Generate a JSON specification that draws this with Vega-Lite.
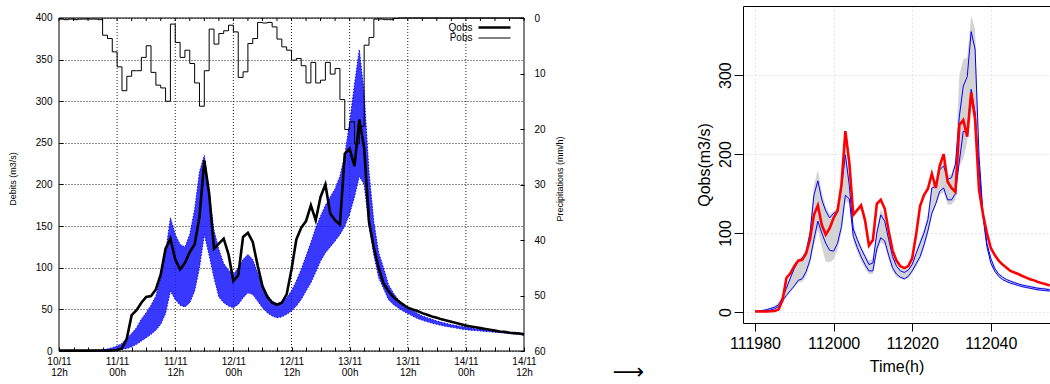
{
"$schema": "https://vega.github.io/schema/vega-lite/v6.json",
"padding": {"left": 8, "top": 6, "right": 0, "bottom": 0},
"background": "white",
"config": {
  "font": "Liberation Sans",
  "view": {"stroke": null},
  "axis": {"labelColor": "black", "titleColor": "black", "tickColor": "black", "domainColor": "black", "titleFontWeight": "normal", "labelOverlap": false, "labelFlush": false, "labelFont": "Liberation Sans", "titleFont": "Liberation Sans"},
  "legend": {"labelFont": "Liberation Sans"}
},
"datasets": {
"L": [
{"h":0,"q":0.5,"p":0.2,"lo":0,"hi":0.5},{"h":1,"q":0.5,"p":0.3,"lo":0,"hi":0.5},{"h":2,"q":0.5,"p":0.2,"lo":0,"hi":0.5},{"h":3,"q":0.5,"p":0.3,"lo":0,"hi":0.5},{"h":4,"q":0.5,"p":0.2,"lo":0,"hi":0.6},{"h":5,"q":0.5,"p":0.2,"lo":0,"hi":0.7},{"h":6,"q":0.5,"p":0.2,"lo":0,"hi":0.8},{"h":7,"q":0.5,"p":0.2,"lo":0,"hi":1},{"h":8,"q":0.5,"p":0.3,"lo":0.2,"hi":1.2},{"h":9,"q":0.5,"p":3.1,"lo":0.3,"hi":1.5},
{"h":10,"q":0.5,"p":3.7,"lo":0.5,"hi":2.5},{"h":11,"q":0.8,"p":6.1,"lo":1,"hi":4},{"h":12,"q":1.2,"p":8.8,"lo":1.5,"hi":6},{"h":13,"q":3,"p":13.1,"lo":2,"hi":9},{"h":14,"q":15,"p":10.5,"lo":3,"hi":15},{"h":15,"q":43,"p":9.5,"lo":5,"hi":21},{"h":16,"q":49,"p":9.5,"lo":8,"hi":28},{"h":17,"q":58,"p":7.1,"lo":12,"hi":38},{"h":18,"q":65,"p":5.0,"lo":16,"hi":46},{"h":19,"q":66,"p":9.8,"lo":20,"hi":55},
{"h":20,"q":74,"p":12.1,"lo":25,"hi":66},{"h":21,"q":92,"p":12.6,"lo":32,"hi":88},{"h":22,"q":123,"p":15.0,"lo":45,"hi":118},{"h":23,"q":135,"p":1.1,"lo":72,"hi":160},{"h":24,"q":110,"p":4.4,"lo":62,"hi":140},{"h":25,"q":98,"p":7.1,"lo":55,"hi":128},{"h":26,"q":106,"p":5.8,"lo":53,"hi":125},{"h":27,"q":119,"p":8.2,"lo":58,"hi":140},{"h":28,"q":128,"p":11.7,"lo":72,"hi":170},{"h":29,"q":161,"p":15.9,"lo":100,"hi":215},
{"h":30,"q":229,"p":9.5,"lo":140,"hi":235},{"h":31,"q":189,"p":2.0,"lo":115,"hi":190},{"h":32,"q":123,"p":4.7,"lo":88,"hi":145},{"h":33,"q":129,"p":2.8,"lo":65,"hi":122},{"h":34,"q":135,"p":2.3,"lo":58,"hi":105},{"h":35,"q":116,"p":1.3,"lo":54,"hi":97},{"h":36,"q":84,"p":2.5,"lo":52,"hi":92},{"h":37,"q":91,"p":10.7,"lo":56,"hi":100},{"h":38,"q":137,"p":9.7,"lo":64,"hi":110},{"h":39,"q":142,"p":4.6,"lo":70,"hi":116},
{"h":40,"q":131,"p":3.7,"lo":68,"hi":110},{"h":41,"q":103,"p":0.8,"lo":60,"hi":94},{"h":42,"q":78,"p":0.9,"lo":52,"hi":78},{"h":43,"q":65,"p":0.8,"lo":46,"hi":68},{"h":44,"q":58,"p":1.6,"lo":42,"hi":60},{"h":45,"q":55.5,"p":3.8,"lo":40,"hi":57},{"h":46,"q":58,"p":5.2,"lo":41,"hi":58},{"h":47,"q":68,"p":5.8,"lo":44,"hi":64},{"h":48,"q":98,"p":7.6,"lo":48,"hi":72},{"h":49,"q":134,"p":7.3,"lo":54,"hi":84},
{"h":50,"q":148,"p":8.6,"lo":62,"hi":98},{"h":51,"q":156,"p":11.7,"lo":72,"hi":114},{"h":52,"q":175,"p":8.0,"lo":82,"hi":130},{"h":53,"q":157,"p":11.7,"lo":95,"hi":148},{"h":54,"q":185,"p":11.2,"lo":108,"hi":162},{"h":55,"q":200,"p":8.0,"lo":118,"hi":175},{"h":56,"q":165,"p":10.1,"lo":125,"hi":185},{"h":57,"q":157,"p":9.1,"lo":132,"hi":195},{"h":58,"q":152,"p":14.7,"lo":140,"hi":210},{"h":59,"q":237,"p":20.1,"lo":150,"hi":235},
{"h":60,"q":243,"p":18.7,"lo":165,"hi":275},{"h":61,"q":222,"p":22.7,"lo":185,"hi":320},{"h":62,"q":278,"p":19.5,"lo":210,"hi":362},{"h":63,"q":244,"p":4.9,"lo":200,"hi":310},{"h":64,"q":155,"p":3.5,"lo":150,"hi":215},{"h":65,"q":124,"p":0.2,"lo":115,"hi":155},{"h":66,"q":100,"p":0.2,"lo":88,"hi":118},{"h":67,"q":81,"p":0.3,"lo":75,"hi":100},{"h":68,"q":72,"p":0.3,"lo":62,"hi":80},{"h":69,"q":65,"p":0.1,"lo":56,"hi":70},
{"h":70,"q":60,"p":0,"lo":52,"hi":62},{"h":71,"q":56,"p":0,"lo":48,"hi":57},{"h":72,"q":52,"p":0,"lo":45,"hi":52},{"h":73,"q":50,"p":0,"lo":42,"hi":49},{"h":74,"q":48,"p":0,"lo":39,"hi":45},{"h":75,"q":45.5,"p":0,"lo":37,"hi":42},{"h":76,"q":43.5,"p":0,"lo":35,"hi":40},{"h":77,"q":41.5,"p":0,"lo":33.5,"hi":38},{"h":78,"q":40,"p":0,"lo":32,"hi":36},{"h":79,"q":38,"p":0,"lo":30.5,"hi":34.5},
{"h":80,"q":36.5,"p":0,"lo":29.5,"hi":33},{"h":81,"q":35,"p":0,"lo":28.5,"hi":31.5},{"h":82,"q":33.5,"p":0,"lo":27.5,"hi":30.5},{"h":83,"q":32,"p":0,"lo":26.5,"hi":29.5},{"h":84,"q":30.5,"p":0,"lo":25.5,"hi":28.5},{"h":85,"q":29.5,"p":0,"lo":25,"hi":27.5},{"h":86,"q":28.5,"p":0,"lo":24.5,"hi":26.5},{"h":87,"q":27.5,"p":0,"lo":24,"hi":26},{"h":88,"q":26.5,"p":0,"lo":23.5,"hi":25},{"h":89,"q":25.5,"p":0,"lo":23,"hi":24.5},
{"h":90,"q":24.5,"p":0,"lo":22.5,"hi":24},{"h":91,"q":23.5,"p":0,"lo":22,"hi":23.5},{"h":92,"q":23,"p":0,"lo":21.5,"hi":23},{"h":93,"q":22,"p":0,"lo":21,"hi":22.5},{"h":94,"q":21.5,"p":0,"lo":20.5,"hi":22},{"h":95,"q":21,"p":0,"lo":20,"hi":21.5},{"h":96,"q":20,"p":0,"lo":19.5,"hi":21}
],
"R": [
{"t":111980,"q":0.5,"bh":1,"bl":0.5,"gh":1.5,"gl":0},{"t":111981,"q":0.5,"bh":1.5,"bl":0.5,"gh":2,"gl":0},{"t":111982,"q":0.5,"bh":2,"bl":1,"gh":2.5,"gl":0.5},{"t":111983,"q":0.5,"bh":3,"bl":1.5,"gh":4,"gl":1},{"t":111984,"q":0.8,"bh":4.5,"bl":2.5,"gh":6,"gl":2},{"t":111985,"q":1.2,"bh":6,"bl":4,"gh":8,"gl":3},{"t":111986,"q":3,"bh":9,"bl":7,"gh":13,"gl":5},{"t":111987,"q":15,"bh":18,"bl":14,"gh":22,"gl":12},{"t":111988,"q":43,"bh":30,"bl":21,"gh":34,"gl":19},{"t":111989,"q":49,"bh":43,"bl":27,"gh":46,"gl":25},
{"t":111990,"q":58,"bh":55,"bl":33,"gh":58,"gl":31},{"t":111991,"q":65,"bh":64,"bl":40,"gh":67,"gl":37},{"t":111992,"q":66,"bh":68,"bl":42,"gh":71,"gl":38},{"t":111993,"q":74,"bh":76,"bl":51,"gh":80,"gl":46},{"t":111994,"q":92,"bh":100,"bl":66,"gh":106,"gl":60},{"t":111995,"q":123,"bh":148,"bl":92,"gh":160,"gl":84},{"t":111996,"q":135,"bh":166,"bl":115,"gh":180,"gl":104},{"t":111997,"q":110,"bh":142,"bl":100,"gh":152,"gl":82},{"t":111998,"q":98,"bh":128,"bl":87,"gh":134,"gl":64},{"t":111999,"q":106,"bh":119,"bl":78,"gh":124,"gl":63},
{"t":112000,"q":119,"bh":125,"bl":77,"gh":128,"gl":66},{"t":112001,"q":128,"bh":128,"bl":87,"gh":132,"gl":78},{"t":112002,"q":161,"bh":157,"bl":108,"gh":162,"gl":100},{"t":112003,"q":229,"bh":199,"bl":148,"gh":206,"gl":140},{"t":112004,"q":189,"bh":160,"bl":143,"gh":166,"gl":138},{"t":112005,"q":123,"bh":105,"bl":96,"gh":112,"gl":90},{"t":112006,"q":129,"bh":92,"bl":82,"gh":96,"gl":76},{"t":112007,"q":135,"bh":80,"bl":70,"gh":84,"gl":64},{"t":112008,"q":116,"bh":70,"bl":60,"gh":74,"gl":55},{"t":112009,"q":84,"bh":60,"bl":52,"gh":65,"gl":48},
{"t":112010,"q":91,"bh":62,"bl":52,"gh":68,"gl":48},{"t":112011,"q":137,"bh":100,"bl":80,"gh":106,"gl":74},{"t":112012,"q":142,"bh":123,"bl":94,"gh":130,"gl":88},{"t":112013,"q":131,"bh":115,"bl":90,"gh":121,"gl":85},{"t":112014,"q":103,"bh":92,"bl":72,"gh":96,"gl":66},{"t":112015,"q":78,"bh":70,"bl":56,"gh":73,"gl":52},{"t":112016,"q":65,"bh":58,"bl":48,"gh":61,"gl":44},{"t":112017,"q":58,"bh":52,"bl":44,"gh":55,"gl":42},{"t":112018,"q":55.5,"bh":50,"bl":42,"gh":53,"gl":40},{"t":112019,"q":58,"bh":53,"bl":45,"gh":56,"gl":43},
{"t":112020,"q":68,"bh":60,"bl":52,"gh":63,"gl":49},{"t":112021,"q":98,"bh":74,"bl":61,"gh":78,"gl":57},{"t":112022,"q":134,"bh":87,"bl":70,"gh":92,"gl":66},{"t":112023,"q":148,"bh":100,"bl":85,"gh":106,"gl":80},{"t":112024,"q":156,"bh":117,"bl":103,"gh":124,"gl":98},{"t":112025,"q":175,"bh":157,"bl":125,"gh":162,"gl":122},{"t":112026,"q":157,"bh":159,"bl":137,"gh":164,"gl":135},{"t":112027,"q":185,"bh":180,"bl":153,"gh":185,"gl":148},{"t":112028,"q":200,"bh":185,"bl":157,"gh":190,"gl":152},{"t":112029,"q":165,"bh":168,"bl":142,"gh":173,"gl":136},
{"t":112030,"q":157,"bh":170,"bl":142,"gh":175,"gl":136},{"t":112031,"q":152,"bh":187,"bl":150,"gh":192,"gl":142},{"t":112032,"q":237,"bh":248,"bl":191,"gh":300,"gl":185},{"t":112033,"q":243,"bh":286,"bl":229,"gh":320,"gl":194},{"t":112034,"q":222,"bh":298,"bl":227,"gh":322,"gl":215},{"t":112035,"q":278,"bh":355,"bl":282,"gh":375,"gl":270},{"t":112036,"q":244,"bh":333,"bl":252,"gh":358,"gl":245},{"t":112037,"q":155,"bh":198,"bl":181,"gh":205,"gl":175},{"t":112038,"q":124,"bh":125,"bl":121,"gh":130,"gl":118},{"t":112039,"q":100,"bh":87,"bl":83,"gh":90,"gl":81},
{"t":112040,"q":81,"bh":68,"bl":62,"gh":70,"gl":60},{"t":112041,"q":72,"bh":55,"bl":51.5,"gh":57,"gl":50.5},{"t":112042,"q":65,"bh":48,"bl":45,"gh":49.5,"gl":44},{"t":112043,"q":60,"bh":44,"bl":41,"gh":45.5,"gl":40},{"t":112044,"q":56,"bh":41,"bl":38.5,"gh":42.5,"gl":37.5},{"t":112045,"q":52,"bh":39,"bl":36.5,"gh":40.5,"gl":35.5},{"t":112046,"q":50,"bh":37,"bl":35,"gh":38.5,"gl":34},{"t":112047,"q":48,"bh":35.5,"bl":33.5,"gh":37,"gl":32.5},{"t":112048,"q":45.5,"bh":34,"bl":32,"gh":35.5,"gl":31},{"t":112049,"q":43.5,"bh":33,"bl":31,"gh":34.5,"gl":30},
{"t":112050,"q":41.5,"bh":32,"bl":30,"gh":33.5,"gl":29},{"t":112051,"q":40,"bh":31,"bl":29,"gh":32.5,"gl":28},{"t":112052,"q":38,"bh":30,"bl":28,"gh":31.5,"gl":27},{"t":112053,"q":36.5,"bh":29.5,"bl":27.5,"gh":31,"gl":26.5},{"t":112054,"q":35,"bh":29,"bl":27,"gh":30.5,"gl":26},{"t":112055,"q":33.5,"bh":28,"bl":26.5,"gh":29.5,"gl":25.5}
]
},
"hconcat": [
  {
    "width": 465, "height": 345,
    "data": {"name": "L"},
    "layer": [
      {
        "layer": [
          {"transform": [{"filter": "datum.h % 12 == 0 && datum.h > 0 && datum.h < 96"}],
           "mark": {"type": "rule", "color": "#222222", "strokeDash": [1, 2], "strokeWidth": 1},
           "encoding": {
             "x": {"field": "h", "type": "quantitative", "scale": {"domain": [0, 96], "nice": false, "zero": false}, "axis": null},
             "y": {"datum": 0, "type": "quantitative", "scale": {"domain": [0, 414.414], "nice": false, "zero": false}, "axis": null},
             "y2": {"datum": 400}}},
          {"mark": {"type": "area", "color": "#1515ff", "opacity": 0.85},
           "encoding": {
             "x": {"field": "h", "type": "quantitative",
                   "axis": {"orient": "bottom", "values": [0,3,6,9,12,15,18,21,24,27,30,33,36,39,42,45,48,51,54,57,60,63,66,69,72,75,78,81,84,87,90,93,96],
                            "labelExpr": "datum.value % 12 == 0 ? [(10 + floor((datum.value + 12) / 24)) + '/11', ((datum.value + 12) % 24 == 0 ? '00' : '12') + 'h'] : ''",
                            "labelFontSize": 10, "labelLineHeight": 11, "tickSize": -4, "labelPadding": 9, "domain": false, "grid": false, "title": null}},
             "y": {"field": "lo", "type": "quantitative",
                   "axis": {"orient": "left", "values": [0,50,100,150,200,250,300,350,400], "labelFontSize": 10, "tickSize": -4, "labelPadding": 11, "domain": false,
                            "grid": true, "gridColor": "#222222", "gridDash": [1, 2],
                            "title": "Debits (m3/s)", "titleFontSize": 9, "titlePadding": 18}},
             "y2": {"field": "hi"}}},
          {"mark": {"type": "line", "color": "#0000ff", "strokeWidth": 1, "strokeDash": [1.5, 1.5]},
           "encoding": {
             "x": {"field": "h", "type": "quantitative", "axis": null},
             "y": {"field": "lo", "type": "quantitative", "axis": null}}},
          {"mark": {"type": "line", "color": "#0000ff", "strokeWidth": 1, "strokeDash": [1.5, 1.5]},
           "encoding": {
             "x": {"field": "h", "type": "quantitative", "axis": null},
             "y": {"field": "hi", "type": "quantitative", "axis": null}}},
          {"mark": {"type": "line", "color": "black"},
           "encoding": {
             "x": {"field": "h", "type": "quantitative", "axis": null},
             "y": {"field": "q", "type": "quantitative", "axis": null},
             "strokeWidth": {"datum": "Qobs", "type": "nominal", "scale": {"domain": ["Qobs", "Pobs"], "range": [2.6, 1]},
               "legend": {"title": null, "orient": "none", "legendX": 430, "legendY": 16, "symbolType": "M-4,0H4", "symbolSize": 64, "symbolStrokeColor": "black", "symbolFillColor": "transparent",
                          "labelFontSize": 10, "labelColor": "black", "labelAlign": "right", "labelOffset": -27.5, "padding": 0, "rowPadding": 0}}}},
          {"transform": [{"filter": "datum.h % 3 == 0"}],
           "mark": {"type": "rule", "color": "black", "strokeWidth": 1},
           "encoding": {"x": {"field": "h", "type": "quantitative", "axis": null}, "y": {"datum": 400, "type": "quantitative", "axis": null}, "y2": {"datum": 396.4}}},
          {"data": {"values": [{"f": 1}]},
           "mark": {"type": "rule", "color": "black", "strokeWidth": 1},
           "encoding": {"x": {"datum": 0, "type": "quantitative", "axis": null}, "x2": {"datum": 96}, "y": {"datum": 400, "type": "quantitative", "axis": null}}},
          {"data": {"values": [{"f": 1}]},
           "mark": {"type": "rule", "color": "black", "strokeWidth": 1},
           "encoding": {"x": {"datum": 0, "type": "quantitative", "axis": null}, "x2": {"datum": 96}, "y": {"datum": 0, "type": "quantitative", "axis": null}}},
          {"data": {"values": [{"f": 1}]},
           "mark": {"type": "rule", "color": "black", "strokeWidth": 1},
           "encoding": {"x": {"datum": 0, "type": "quantitative", "axis": null}, "y": {"datum": 0, "type": "quantitative", "axis": null}, "y2": {"datum": 400}}},
          {"data": {"values": [{"f": 1}]},
           "mark": {"type": "rule", "color": "black", "strokeWidth": 1},
           "encoding": {"x": {"datum": 96, "type": "quantitative", "axis": null}, "y": {"datum": 0, "type": "quantitative", "axis": null}, "y2": {"datum": 400}}}
        ],
        "resolve": {"axis": {"x": "independent", "y": "independent"}}
      },
      {"mark": {"type": "line", "color": "black", "interpolate": "step-after"},
       "encoding": {
         "x": {"field": "h", "type": "quantitative", "axis": null},
         "y": {"field": "p", "type": "quantitative", "scale": {"domain": [-2.1622, 60], "reverse": true, "nice": false, "zero": false},
               "axis": {"orient": "right", "values": [0,10,20,30,40,50,60], "labelFontSize": 10, "tickSize": -4, "labelPadding": 14, "domain": false, "grid": false,
                        "title": "Precipitations (mm/h)", "titleFontSize": 9, "titleAngle": 270, "titleBaseline": "top", "titlePadding": 10}},
         "strokeWidth": {"datum": "Pobs", "type": "nominal"}}}
    ],
    "resolve": {"scale": {"y": "independent"}, "axis": {"x": "independent"}}
  },
  {
    "width": 219, "height": 317,
    "data": {"values": [{"a": "⟶"}]},
    "mark": {"type": "text", "font": "DejaVu Sans", "fontSize": 22, "dx": -5, "dy": 207.5, "color": "black", "baseline": "middle"},
    "encoding": {"text": {"field": "a"}}
  },
  {
    "width": 307, "height": 317,
    "data": {"name": "R"},
    "layer": [
      {"mark": {"type": "area", "color": "#d3d3d3"},
       "encoding": {
         "x": {"field": "t", "type": "quantitative", "scale": {"domain": [111976.95, 112055.06], "nice": false, "zero": false},
               "axis": {"orient": "bottom", "values": [111980, 112000, 112020, 112040], "format": "d", "labelFontSize": 16, "tickSize": 8, "labelPadding": 4, "domain": true,
                        "grid": true, "gridColor": "#cfcfcf", "gridDash": [1, 3], "title": "Time(h)", "titleFontSize": 16, "titlePadding": 7}},
         "y": {"field": "gl", "type": "quantitative", "scale": {"domain": [-14, 387.5], "nice": false, "zero": false},
               "axis": {"orient": "left", "values": [0, 100, 200, 300], "labelFontSize": 16, "labelAngle": 270, "labelAlign": "center", "labelBaseline": "alphabetic", "tickSize": 9, "labelPadding": 4, "domain": true,
                        "grid": true, "gridColor": "#cfcfcf", "gridDash": [1, 3], "title": "Qobs(m3/s)", "titleFontSize": 16, "titlePadding": 5}},
         "y2": {"field": "gh"}}},
      {"mark": {"type": "line", "color": "#0000ff", "strokeWidth": 1},
       "encoding": {
         "x": {"field": "t", "type": "quantitative",
               "axis": {"orient": "top", "labels": false, "ticks": false, "grid": false, "domain": true, "title": null}},
         "y": {"field": "bh", "type": "quantitative", "axis": null}}},
      {"mark": {"type": "line", "color": "#0000ff", "strokeWidth": 1},
       "encoding": {
         "x": {"field": "t", "type": "quantitative", "axis": null},
         "y": {"field": "bl", "type": "quantitative", "axis": null}}},
      {"mark": {"type": "line", "color": "#ff0000", "strokeWidth": 2.6},
       "encoding": {
         "x": {"field": "t", "type": "quantitative", "axis": null},
         "y": {"field": "q", "type": "quantitative", "axis": null}}}
    ],
    "resolve": {"axis": {"x": "independent", "y": "independent"}}
  }
],
"spacing": 0,
"bounds": "flush"
}
